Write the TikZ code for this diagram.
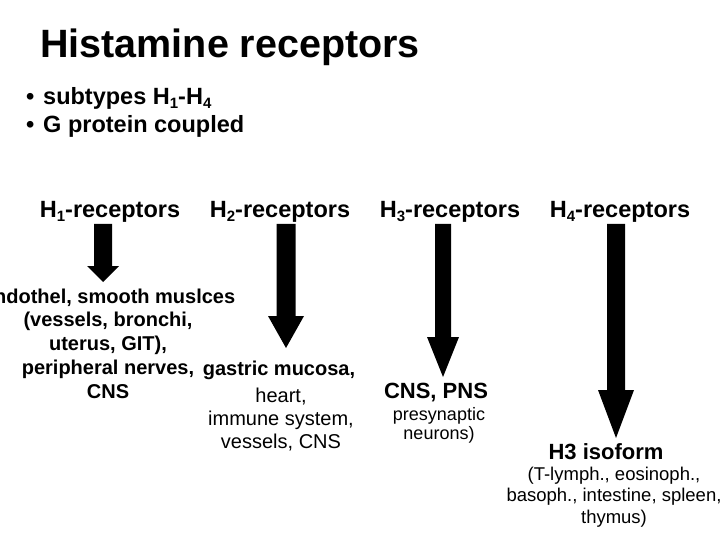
\documentclass[tikz,border=0pt]{standalone}
\usepackage{fontspec}
\setmainfont{Liberation Sans}
\usetikzlibrary{calc}
\newcommand\hsub[1]{\raisebox{-3.5pt}{\fontsize{15}{15}\selectfont #1}}
\newcommand\fatarrow[5]{%
  \fill[black] let \p1=(#1), \p2=(#2) in
    ({\x1-#3},\y1) -- ({\x1+#3},\y1) -- ({\x1+#3},{\y2+#5}) -- ({\x1+#4},{\y2+#5})
    -- (\x1,\y2) -- ({\x1-#4},{\y2+#5}) -- ({\x1-#3},{\y2+#5}) -- cycle;}
\tikzset{
  titletxt/.style={anchor=base west, inner sep=0pt, font=\fontsize{39.5}{44}\selectfont\bfseries},
  bullettxt/.style={anchor=base west, inner sep=0pt, font=\fontsize{23.5}{28}\selectfont\bfseries},
  hdr/.style={anchor=base, inner sep=0pt, font=\fontsize{23.5}{28}\selectfont\bfseries},
  boldblock/.style={anchor=base, inner sep=0pt, align=center, font=\fontsize{20}{23.75}\selectfont\bfseries},
  regblock/.style={anchor=base, inner sep=0pt, align=center, font=\fontsize{20}{23}\selectfont},
  bigbold/.style={anchor=base, inner sep=0pt, align=center, font=\fontsize{22}{26}\selectfont\bfseries},
  smallblock/.style={anchor=base, inner sep=0pt, align=center, font=\fontsize{18.5}{21.5}\selectfont},
  smalltight/.style={anchor=base, inner sep=0pt, align=center, font=\fontsize{18}{18.5}\selectfont},
}
\begin{document}
\begin{tikzpicture}[x=1pt,y=-1pt]
  \clip (0,0) rectangle (720,540);
  \fill[white] (0,0) rectangle (720,540);

  \node[titletxt] (title) at (40,58) {Histamine receptors};
  \node[bullettxt] (b1) at (26,105) {\makebox[17pt][l]{•}subtypes H\hsub{1}-H\hsub{4}};
  \node[bullettxt] (b2) at (26,133) {\makebox[17pt][l]{•}G protein coupled};

  \node[hdr] (h1) at (110,218) {H\hsub{1}-receptors};
  \node[hdr] (h2) at (280,218) {H\hsub{2}-receptors};
  \node[hdr] (h3) at (450,218) {H\hsub{3}-receptors};
  \node[hdr] (h4) at (620,218) {H\hsub{4}-receptors};

  \node[boldblock] (t1) at (108,398) {Endothel, smooth muslces\\(vessels, bronchi,\\uterus, GIT),\\peripheral nerves,\\CNS};

  \node[boldblock] (t2a) at (279,375) {gastric mucosa,};
  \node[regblock] (t2b) at (281,448) {heart,\\immune system,\\vessels, CNS};

  \node[bigbold] (t3a) at (436,398) {CNS, PNS};
  \node[smalltight] (t3b) at (439,439) {presynaptic\\neurons)};

  \node[bigbold] (t4a) at (606,459) {H3 isoform};
  \node[smallblock] (t4b) at (614,523) {(T-lymph., eosinoph.,\\basoph., intestine, spleen,\\thymus)};

  \coordinate (a1top) at (103,224); \coordinate (a1tip) at (103,282);
  \coordinate (a2top) at (286,224); \coordinate (a2tip) at (286,348);
  \coordinate (a3top) at (443,224); \coordinate (a3tip) at (443,377);
  \coordinate (a4top) at (616,224); \coordinate (a4tip) at (616,438);

  \fatarrow{a1top}{a1tip}{9pt}{16pt}{16pt}
  \fatarrow{a2top}{a2tip}{9.5pt}{18pt}{32pt}
  \fatarrow{a3top}{a3tip}{8pt}{16pt}{40pt}
  \fatarrow{a4top}{a4tip}{9pt}{18pt}{48pt}
\end{tikzpicture}
\end{document}
